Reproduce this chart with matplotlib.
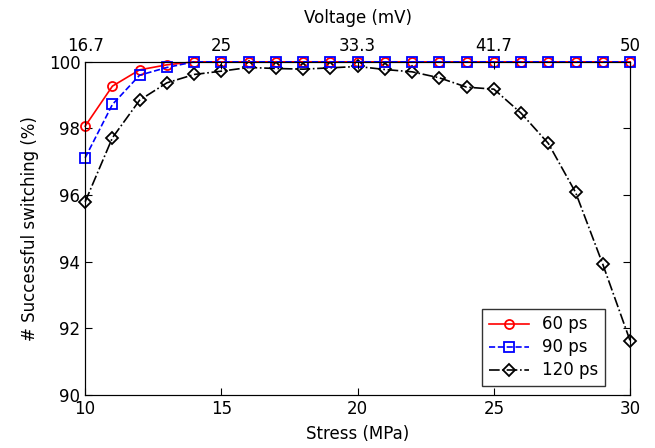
import matplotlib
matplotlib.use("Agg")
import matplotlib.pyplot as plt
import numpy as np

stress = list(range(10, 31))
ps60 = [98.07, 99.27, 99.76, 99.91] + [100.0] * 17
ps90 = [97.12, 98.72, 99.6, 99.83] + [100.0] * 17
ps120 = [95.8, 97.72, 98.85, 99.37, 99.62, 99.72, 99.83, 99.8, 99.78, 99.82, 99.86,
         99.77, 99.7, 99.52, 99.24, 99.18, 98.46, 97.55, 96.08, 93.92, 91.63]
volt_pos = [10, 15, 20, 25, 30]
volt_labels = ["16.7", "25", "33.3", "41.7", "50"]

plt.rcParams['font.family'] = ['DejaVu Sans']
fig = plt.figure(figsize=(6.55, 4.48), dpi=100)
ax = fig.add_axes([0.13, 0.118, 0.832, 0.744])

ax.plot(stress, ps60, '-', color='red', marker='o', mfc='none', mec='red', ms=6.5, mew=1.3, lw=1.2, label='60 ps', clip_on=False, zorder=3)
ax.plot(stress, ps90, '--', color='blue', marker='s', mfc='none', mec='blue', ms=6.5, mew=1.3, lw=1.2, label='90 ps', clip_on=False, zorder=4)
ax.plot(stress, ps120, '-.', color='black', marker='D', mfc='none', mec='black', ms=6, mew=1.3, lw=1.2, label='120 ps', clip_on=False, zorder=2)

ax.set_xlim(10, 30)
ax.set_ylim(90, 100)
ax.set_xticks([10, 15, 20, 25, 30])
ax.set_yticks([90, 92, 94, 96, 98, 100])
ax.tick_params(direction='in', right=True, labelsize=12, length=5)
ax.set_xlabel('Stress (MPa)', fontsize=12, labelpad=5)
ax.set_ylabel('# Successful switching (%)', fontsize=12, labelpad=7)
for s in ax.spines.values():
    s.set_color('#333333')

ax2 = ax.twiny()
ax2.set_xlim(10, 30)
ax2.set_xticks(volt_pos)
ax2.set_xticklabels(volt_labels)
ax2.tick_params(direction='in', labelsize=12, length=5, pad=5)
ax2.set_xlabel('Voltage (mV)', fontsize=12, labelpad=10)

leg = ax.legend(loc='lower right', bbox_to_anchor=(0.954, 0.027), fontsize=12, fancybox=False,
                edgecolor='#333333', framealpha=1, handlelength=2.4, borderaxespad=0.0,
                labelspacing=0.3, borderpad=0.4)
leg.get_frame().set_linewidth(1.0)

fig.savefig('out.png', dpi=100)
